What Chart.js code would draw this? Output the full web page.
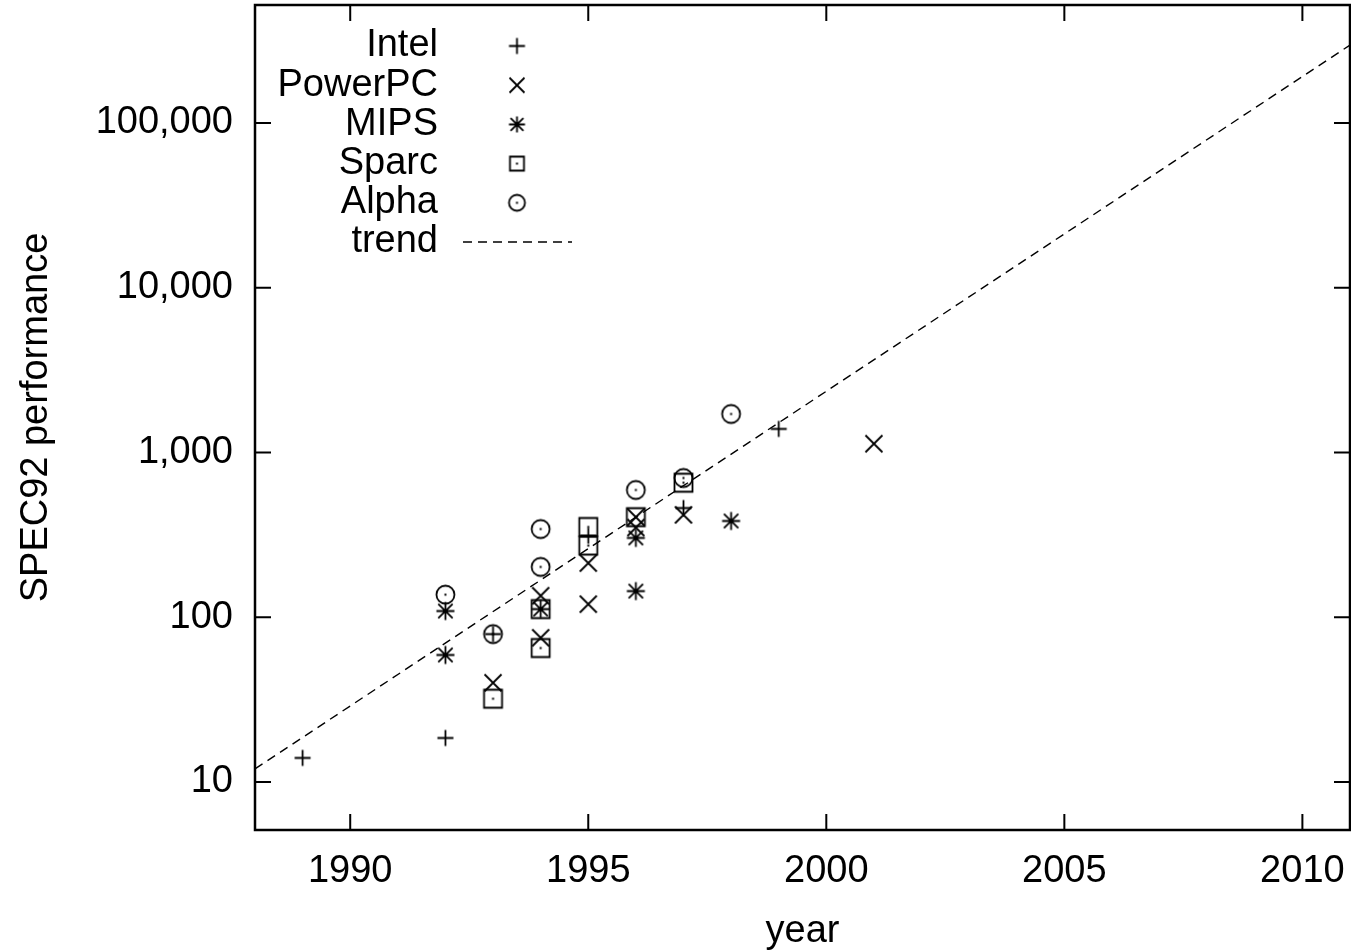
<!DOCTYPE html>
<html>
<head>
<meta charset="utf-8">
<script src="https://cdn.jsdelivr.net/npm/chart.js@4/dist/chart.umd.min.js"></script>
<style>
  html, body { margin: 0; padding: 0; background: #fff; }
  #wrap { width: 1351px; height: 951px; }
</style>
</head>
<body>
<div id="wrap"><canvas id="perfChart"></canvas></div>
<script>
// data
const intelYears = [1989, 1992, 1993, 1995, 1997, 1999];
const intelPerf = [14, 18.5, 79, 312, 460, 1390];

const powerpcYears = [1993, 1994, 1994, 1995, 1995, 1996, 1996, 1997, 2001];
const powerpcPerf = [40, 135, 75, 213, 120, 405, 350, 418, 1130];

const mipsYears = [1992, 1992, 1994, 1996, 1996, 1998];
const mipsPerf = [109, 59, 112, 303, 144, 384];

const sparcYears = [1993, 1994, 1994, 1995, 1995, 1996, 1997];
const sparcPerf = [32, 112, 65, 353, 272, 405, 655];

const alphaYears = [1992, 1993, 1994, 1994, 1996, 1997, 1998];
const alphaPerf = [137, 79, 343, 202, 592, 700, 1713];

const trendYears = [1988, 2011];
const trendPerf = [12, 297000];

const xTicks = [1990, 1995, 2000, 2005, 2010];
const yTicks = [10, 100, 1000, 10000, 100000];

const FONT = '"Liberation Sans", Arial, Helvetica, sans-serif';
const FONT_SIZE = 38;

function toPoints(xs, ys) {
    return xs.map((x, i) => ({ x: x, y: ys[i] }));
}

// gnuplot-like markers drawn into small canvases
function makeMarker(kind, size) {
    const c = document.createElement('canvas');
    c.width = size + 5;
    c.height = size + 5;
    const g = c.getContext('2d');
    const m = c.width / 2;
    const h = size / 2;
    g.strokeStyle = '#000';
    g.fillStyle = '#000';
    g.lineWidth = 1.8;
    g.beginPath();
    if (kind === 'plus' || kind === 'star') {
        g.moveTo(m - h, m); g.lineTo(m + h, m);
        g.moveTo(m, m - h); g.lineTo(m, m + h);
    }
    if (kind === 'cross' || kind === 'star') {
        const d = kind === 'star' ? h * 0.8 : h;
        g.moveTo(m - d, m - d); g.lineTo(m + d, m + d);
        g.moveTo(m - d, m + d); g.lineTo(m + d, m - d);
    }
    if (kind === 'square') {
        g.rect(m - h, m - h, size, size);
    }
    if (kind === 'circle') {
        g.arc(m, m, h, 0, Math.PI * 2);
    }
    g.stroke();
    if (kind === 'square' || kind === 'circle') {
        g.fillRect(m - 1, m - 1, 2, 2);
    }
    return c;
}

const series = [
    { label: 'Intel', years: intelYears, perf: intelPerf, kind: 'plus', size: 16, legendSize: 16 },
    { label: 'PowerPC', years: powerpcYears, perf: powerpcPerf, kind: 'cross', size: 17, legendSize: 15 },
    { label: 'MIPS', years: mipsYears, perf: mipsPerf, kind: 'star', size: 18, legendSize: 16 },
    { label: 'Sparc', years: sparcYears, perf: sparcPerf, kind: 'square', size: 18, legendSize: 14 },
    { label: 'Alpha', years: alphaYears, perf: alphaPerf, kind: 'circle', size: 18, legendSize: 16 }
];

const datasets = series.map(s => ({
    label: s.label,
    data: toPoints(s.years, s.perf),
    pointStyle: makeMarker(s.kind, s.size),
    showLine: false
}));

datasets.push({
    label: 'trend',
    type: 'line',
    data: toPoints(trendYears, trendPerf),
    borderColor: '#000',
    borderWidth: 1.4,
    borderDash: [9, 6],
    pointRadius: 0,
    fill: false
});

// frame with inward ticks on all four sides
const frameTicks = {
    id: 'frameTicks',
    afterDraw(chart) {
        const ctx = chart.ctx;
        const a = chart.chartArea;
        const len = 16;
        ctx.save();
        ctx.strokeStyle = '#000';
        ctx.lineWidth = 2;
        ctx.beginPath();
        chart.scales.x.ticks.forEach(t => {
            const px = chart.scales.x.getPixelForValue(t.value);
            ctx.moveTo(px, a.bottom); ctx.lineTo(px, a.bottom - len);
            ctx.moveTo(px, a.top); ctx.lineTo(px, a.top + len);
        });
        chart.scales.y.ticks.forEach(t => {
            const py = chart.scales.y.getPixelForValue(t.value);
            ctx.moveTo(a.left, py); ctx.lineTo(a.left + len, py);
            ctx.moveTo(a.right, py); ctx.lineTo(a.right - len, py);
        });
        ctx.stroke();
        ctx.lineWidth = 2.5;
        ctx.strokeRect(a.left, a.top, a.right - a.left, a.bottom - a.top);
        ctx.restore();
    }
};

// legend inside the plot: text right aligned, marker to the right
const keyBox = {
    id: 'keyBox',
    afterDraw(chart) {
        const ctx = chart.ctx;
        const textRight = 438;
        const markX = 517;
        const rowY = 46;
        const rowGap = 39.2;
        ctx.save();
        ctx.font = FONT_SIZE + 'px ' + FONT;
        ctx.fillStyle = '#000';
        ctx.textAlign = 'right';
        ctx.textBaseline = 'middle';
        series.forEach((s, i) => {
            const y = rowY + i * rowGap;
            ctx.fillText(s.label, textRight, y);
            const img = makeMarker(s.kind, s.legendSize);
            ctx.drawImage(img, markX - img.width / 2, y - img.height / 2);
        });
        const ty = rowY + series.length * rowGap;
        ctx.fillText('trend', textRight, ty);
        ctx.strokeStyle = '#000';
        ctx.lineWidth = 1.4;
        ctx.setLineDash([9, 6]);
        ctx.beginPath();
        ctx.moveTo(463, ty);
        ctx.lineTo(572, ty);
        ctx.stroke();
        ctx.restore();
    }
};

new Chart(document.getElementById('perfChart'), {
    type: 'scatter',
    data: { datasets: datasets },
    options: {
        responsive: true,
        maintainAspectRatio: false,
        animation: false,
        layout: { autoPadding: false, padding: { top: 5, right: 1, left: 0, bottom: 0 } },
        scales: {
            x: {
                type: 'linear',
                min: 1988,
                max: 2011,
                afterBuildTicks: scale => { scale.ticks = xTicks.map(v => ({ value: v })); },
                afterFit: scale => {
                    scale.height = 121;
                    scale.paddingLeft = 0;
                    scale.paddingRight = 0;
                },
                grid: { display: false, drawTicks: false },
                border: { display: false },
                ticks: {
                    color: '#000',
                    padding: 19,
                    maxRotation: 0,
                    font: { family: FONT, size: FONT_SIZE },
                    callback: v => String(v)
                },
                title: {
                    display: true,
                    text: 'year',
                    color: '#000',
                    padding: { top: 0, bottom: 0 },
                    font: { family: FONT, size: FONT_SIZE, lineHeight: 1.0 }
                }
            },
            y: {
                type: 'logarithmic',
                min: 5.11,
                max: 520000,
                afterBuildTicks: scale => { scale.ticks = yTicks.map(v => ({ value: v })); },
                afterFit: scale => {
                    scale.width = 255;
                    scale.paddingTop = 0;
                    scale.paddingBottom = 0;
                },
                grid: { display: false, drawTicks: false },
                border: { display: false },
                ticks: {
                    color: '#000',
                    padding: 22,
                    font: { family: FONT, size: FONT_SIZE },
                    callback: v => Number(v).toLocaleString('en-US')
                },
                title: {
                    display: true,
                    text: 'SPEC92 performance',
                    color: '#000',
                    padding: { top: 16, bottom: 0 },
                    font: { family: FONT, size: FONT_SIZE, lineHeight: 1.1 }
                }
            }
        },
        plugins: {
            legend: { display: false },
            tooltip: { enabled: false }
        }
    },
    plugins: [frameTicks, keyBox]
});
</script>
</body>
</html>
